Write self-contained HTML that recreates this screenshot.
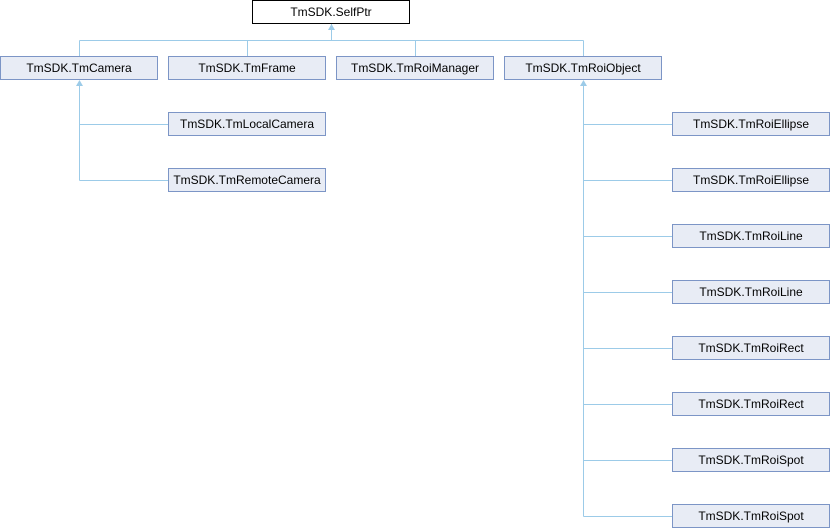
<!DOCTYPE html>
<html><head><meta charset="utf-8"><style>body{margin:0;background:#fff}svg{display:block}text{font-family:"Liberation Sans",sans-serif;font-size:12px;fill:#000}</style></head><body>
<svg width="830" height="528" viewBox="0 0 830 528" xmlns="http://www.w3.org/2000/svg">
<g stroke="#9ccbe8" stroke-width="1" fill="none">
<path d="M331.5 24V40.5M79.5 40.5H583.5M79.5 40.5V56M247.5 40.5V56M415.5 40.5V56M583.5 40.5V56"/>
<path d="M79.5 82V180.5M79.5 124.5H168M79.5 180.5H168"/>
<path d="M583.5 82V516.5M583.5 124.5H672M583.5 180.5H672M583.5 236.5H672M583.5 292.5H672M583.5 348.5H672M583.5 404.5H672M583.5 460.5H672M583.5 516.5H672"/>
</g>
<g fill="#9ccbe8"><path d="M331.5 24l-3.5 6h7z"/><path d="M79.5 80l-3.5 6h7z"/><path d="M583.5 80l-3.5 6h7z"/></g>
<rect x="252.5" y="0.5" width="157" height="23" fill="#fff" stroke="#000"/>
<text x="331" y="16" text-anchor="middle">TmSDK.SelfPtr</text>
<g fill="#e8ecf5" stroke="#7c95c6">
<rect x="0.5" y="56.5" width="157" height="23"/><rect x="168.5" y="56.5" width="157" height="23"/><rect x="336.5" y="56.5" width="157" height="23"/><rect x="504.5" y="56.5" width="157" height="23"/>
<rect x="168.5" y="112.5" width="157" height="23"/><rect x="168.5" y="168.5" width="157" height="23"/>
<rect x="672.5" y="112.5" width="157" height="23"/><rect x="672.5" y="168.5" width="157" height="23"/><rect x="672.5" y="224.5" width="157" height="23"/><rect x="672.5" y="280.5" width="157" height="23"/><rect x="672.5" y="336.5" width="157" height="23"/><rect x="672.5" y="392.5" width="157" height="23"/><rect x="672.5" y="448.5" width="157" height="23"/><rect x="672.5" y="504.5" width="157" height="23"/>
</g>
<g text-anchor="middle">
<text x="79" y="72">TmSDK.TmCamera</text><text x="247" y="72">TmSDK.TmFrame</text><text x="415" y="72">TmSDK.TmRoiManager</text><text x="583" y="72">TmSDK.TmRoiObject</text>
<text x="247" y="128">TmSDK.TmLocalCamera</text><text x="247" y="184">TmSDK.TmRemoteCamera</text>
<text x="751" y="128">TmSDK.TmRoiEllipse</text><text x="751" y="184">TmSDK.TmRoiEllipse</text><text x="751" y="240">TmSDK.TmRoiLine</text><text x="751" y="296">TmSDK.TmRoiLine</text><text x="751" y="352">TmSDK.TmRoiRect</text><text x="751" y="408">TmSDK.TmRoiRect</text><text x="751" y="464">TmSDK.TmRoiSpot</text><text x="751" y="520">TmSDK.TmRoiSpot</text>
</g>
</svg>
</body></html>
